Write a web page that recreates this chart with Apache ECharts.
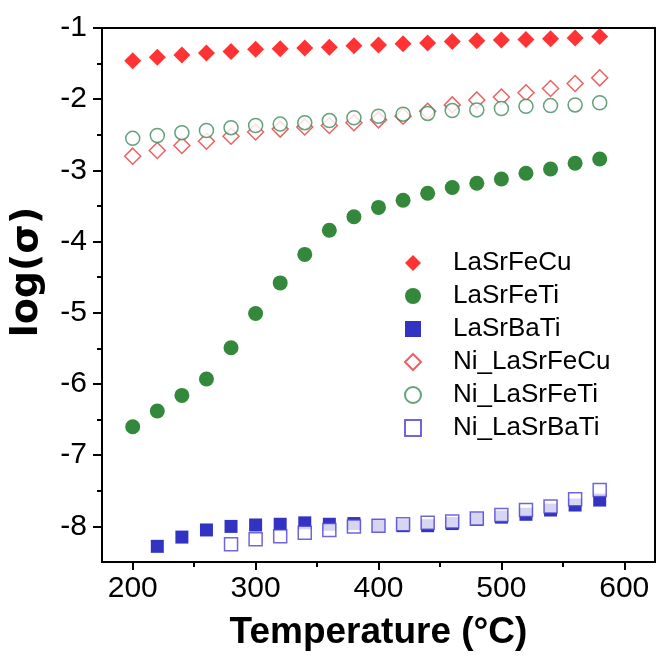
<!DOCTYPE html>
<html>
<head>
<meta charset="utf-8">
<script src="https://cdn.jsdelivr.net/npm/echarts@6/dist/echarts.min.js"></script>
<style>html,body{margin:0;padding:0;background:#fff}#c{width:657px;height:656px}</style>
</head>
<body>
<div id="c"></div>
<script>
// Temperatures (°C)
const tempAll = [200,220,240,260,280,300,320,340,360,380,400,420,440,460,480,500,520,540,560,580];
const tempBa = [220,240,260,280,300,320,340,360,380,400,420,440,460,480,500,520,540,560,580];
const tempNiBa = [280,300,320,340,360,380,400,420,440,460,480,500,520,540,560,580];
// log(sigma) values
const LaSrFeCu = [-1.46,-1.41,-1.38,-1.35,-1.33,-1.30,-1.29,-1.28,-1.27,-1.25,-1.24,-1.22,-1.21,-1.19,-1.18,-1.17,-1.16,-1.15,-1.14,-1.12];
const LaSrFeTi = [-6.60,-6.38,-6.16,-5.93,-5.49,-5.01,-4.58,-4.18,-3.84,-3.65,-3.52,-3.42,-3.32,-3.24,-3.18,-3.12,-3.04,-2.98,-2.90,-2.84];
const LaSrBaTi = [-8.28,-8.15,-8.05,-8.00,-7.98,-7.97,-7.95,-7.97,-7.96,-7.99,-7.99,-7.99,-7.96,-7.90,-7.87,-7.83,-7.77,-7.70,-7.63];
const Ni_LaSrFeCu = [-2.80,-2.72,-2.65,-2.59,-2.52,-2.46,-2.42,-2.39,-2.37,-2.33,-2.29,-2.24,-2.17,-2.08,-2.01,-1.97,-1.91,-1.85,-1.78,-1.70];
const Ni_LaSrFeTi = [-2.55,-2.51,-2.47,-2.44,-2.40,-2.37,-2.35,-2.33,-2.30,-2.26,-2.24,-2.21,-2.20,-2.16,-2.15,-2.13,-2.10,-2.09,-2.08,-2.05];
const Ni_LaSrBaTi = [-8.25,-8.18,-8.14,-8.09,-8.05,-8.00,-7.99,-7.97,-7.95,-7.93,-7.89,-7.84,-7.77,-7.72,-7.62,-7.49];
// ticks
const xMajor = [200,300,400,500,600];
const xMinor = [250,350,450,550];
const yMajor = [-8,-7,-6,-5,-4,-3,-2,-1];
const yMinor = [-7.5,-6.5,-5.5,-4.5,-3.5,-2.5,-1.5];

const FONT = 'Liberation Sans, Arial, sans-serif';
const zip = (xs, ys) => xs.map((x, i) => [x, ys[i]]);

const chart = echarts.init(document.getElementById('c'), null, {renderer: 'canvas'});
const axisLine = {show: true, lineStyle: {color: '#000', width: 2}};
chart.setOption({
  animation: false,
  backgroundColor: '#fff',
  grid: {left: 98, right: 2, top: 28, bottom: 84, show: true, borderColor: '#000', borderWidth: 2, backgroundColor: 'transparent'},
  xAxis: [{
    type: 'value', min: 175, max: 625, position: 'bottom',
    name: 'Temperature (°C)', nameLocation: 'middle', nameGap: 52,
    nameTextStyle: {fontFamily: FONT, fontSize: 37, fontWeight: 'bold', color: '#000'},
    axisLine: axisLine,
    axisTick: {show: true, length: 8, customValues: xMajor, lineStyle: {color: '#000', width: 2}},
    axisLabel: {show: true, customValues: xMajor, margin: 12, fontFamily: FONT, fontSize: 30, color: '#000'},
    splitLine: {show: false}
  }, {
    type: 'value', min: 175, max: 625, position: 'bottom',
    axisLine: {show: false},
    axisTick: {show: true, length: 5, customValues: xMinor, lineStyle: {color: '#000', width: 2}},
    axisLabel: {show: false},
    splitLine: {show: false}
  }],
  yAxis: [{
    type: 'value', min: -8.5, max: -1, position: 'left',
    name: 'log(σ)', nameLocation: 'middle', nameGap: 56, nameRotate: 90,
    nameTextStyle: {fontFamily: 'DejaVu Sans, sans-serif', fontSize: 38, fontWeight: 'bold', color: '#000', padding: [0, 0, 0, 46]},
    axisLine: axisLine,
    axisTick: {show: true, length: 9, customValues: yMajor, lineStyle: {color: '#000', width: 2}},
    axisLabel: {show: true, customValues: yMajor, margin: 15, fontFamily: FONT, fontSize: 30, color: '#000'},
    splitLine: {show: false}
  }, {
    type: 'value', min: -8.5, max: -1, position: 'left',
    axisLine: {show: false},
    axisTick: {show: true, length: 5, customValues: yMinor, lineStyle: {color: '#000', width: 2}},
    axisLabel: {show: false},
    splitLine: {show: false}
  }],
  legend: {
    orient: 'vertical', left: 404, top: 250, padding: 0,
    itemWidth: 16, itemHeight: 16, itemGap: 7,
    textStyle: {fontFamily: FONT, fontSize: 26, color: '#000', padding: [0, 0, 0, 27]},
    data: ['LaSrFeCu','LaSrFeTi','LaSrBaTi','Ni_LaSrFeCu','Ni_LaSrFeTi','Ni_LaSrBaTi']
  },
  series: [
    {name: 'LaSrFeCu', type: 'scatter', symbol: 'diamond', symbolSize: 17,
     itemStyle: {color: '#FF0000'}, data: zip(tempAll, LaSrFeCu)},
    {name: 'LaSrFeTi', type: 'scatter', symbol: 'circle', symbolSize: 15,
     itemStyle: {color: '#006A0A'}, data: zip(tempAll, LaSrFeTi)},
    {name: 'LaSrBaTi', type: 'scatter', symbol: 'rect', symbolSize: 13,
     itemStyle: {color: '#0000B4'}, data: zip(tempBa, LaSrBaTi)},
    {name: 'Ni_LaSrFeCu', type: 'scatter', symbol: 'diamond', symbolSize: 16,
     itemStyle: {color: '#ffffff', borderColor: '#E83A3A', borderWidth: 1.5}, data: zip(tempAll, Ni_LaSrFeCu)},
    {name: 'Ni_LaSrFeTi', type: 'scatter', symbol: 'circle', symbolSize: 14,
     itemStyle: {color: '#ffffff', borderColor: '#3D8A5C', borderWidth: 1.5}, data: zip(tempAll, Ni_LaSrFeTi)},
    {name: 'Ni_LaSrBaTi', type: 'scatter', symbol: 'rect', symbolSize: 13,
     itemStyle: {color: '#ffffff', borderColor: '#4B3FD6', borderWidth: 1.5}, data: zip(tempNiBa, Ni_LaSrBaTi)}
  ]
});
</script>
</body>
</html>
